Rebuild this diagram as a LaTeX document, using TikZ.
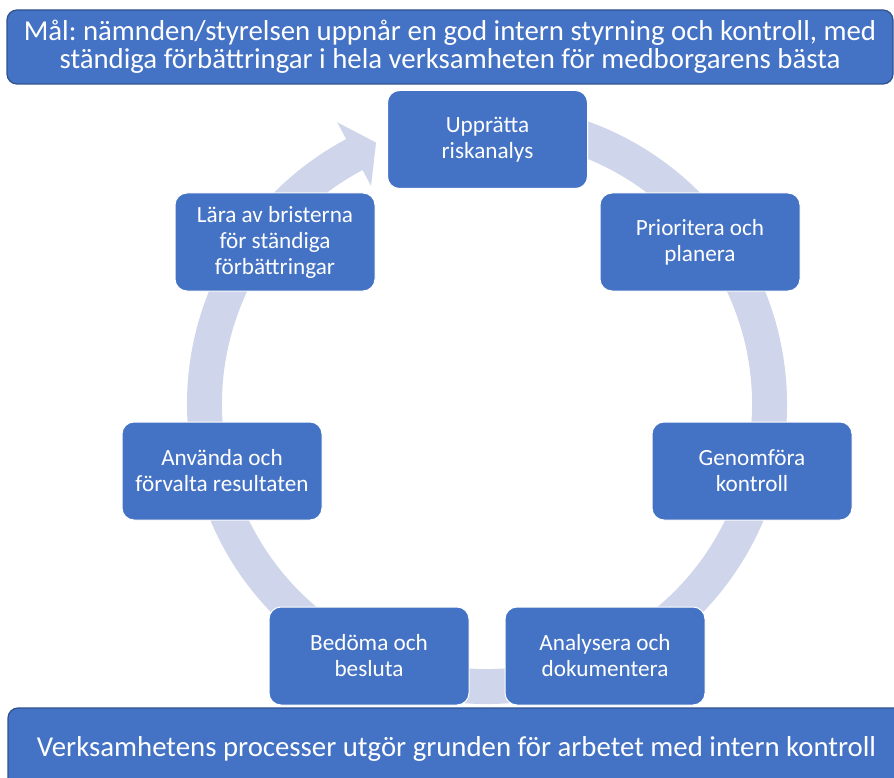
\documentclass[tikz,border=0pt]{standalone}
\usepackage{fontspec}
\setmainfont{Carlito}
\frenchspacing
\usetikzlibrary{positioning}
\definecolor{stageFill}{HTML}{4472C4}
\definecolor{bannerDraw}{HTML}{2F528F}
\definecolor{ringFill}{HTML}{CFD5EA}
\tikzset{
  box/.style    ={rounded corners=12pt, align=center, text=white, inner sep=4pt},
  stage/.style  ={box, fill=stageFill, draw=white, line width=1pt,
                  minimum width=200pt, minimum height=98pt, font=\fontsize{23.2}{26}\selectfont},
  banner/.style ={box, fill=stageFill, draw=bannerDraw, line width=1.2pt, rounded corners=10pt,
                  font=\fontsize{28.8}{28.5}\selectfont},
}

\begin{document}
\begin{tikzpicture}[x=1pt, y=1pt]
  \useasboundingbox (0,0) rectangle (894,-778);

  % circular arrow behind the stages, head ends at the first stage
  \coordinate (ctr) at (487,-404);
  \begin{scope}[shift={(ctr)}]
    \fill[ringFill] (100:300) arc[start angle=100, end angle=-242, radius=300]
      -- (-242:319) -- (-247:284) -- (-242:247) -- (-242:265)
      arc[start angle=-242, end angle=100, radius=265] -- cycle;
  \end{scope}

  % the seven stages, clockwise from the top
  \node[stage] (upp)    at (487.5,-139.5) {Upprätta\\riskanalys};
  \node[stage] (prio)   at (700,-242)     {Prioritera och\\planera};
  \node[stage] (genom)  at (752,-471)     {Genomföra\\kontroll};
  \node[stage] (analys) at (605,-656)     {Analysera och\\dokumentera};
  \node[stage] (bedom)  at (369,-656)     {Bedöma och\\besluta};
  \node[stage] (anvand) at (222,-471)     {Använda och\\förvalta resultaten};
  \node[stage] (lara)   at (275,-242)     {Lära av bristerna\\för ständiga\\förbättringar};

  % goal on top, foundation at the bottom
  \node[banner, minimum width=886pt, minimum height=74pt]
    (goal) at (450,-47) {Mål: nämnden/styrelsen uppnår en god intern styrning och kontroll, med\\
     ständiga förbättringar i hela verksamheten för medborgarens bästa};
  \node[banner, minimum width=897pt, minimum height=82pt]
    (base) at (456.5,-749) {Verksamhetens processer utgör grunden för arbetet med intern kontroll};
\end{tikzpicture}
\end{document}
